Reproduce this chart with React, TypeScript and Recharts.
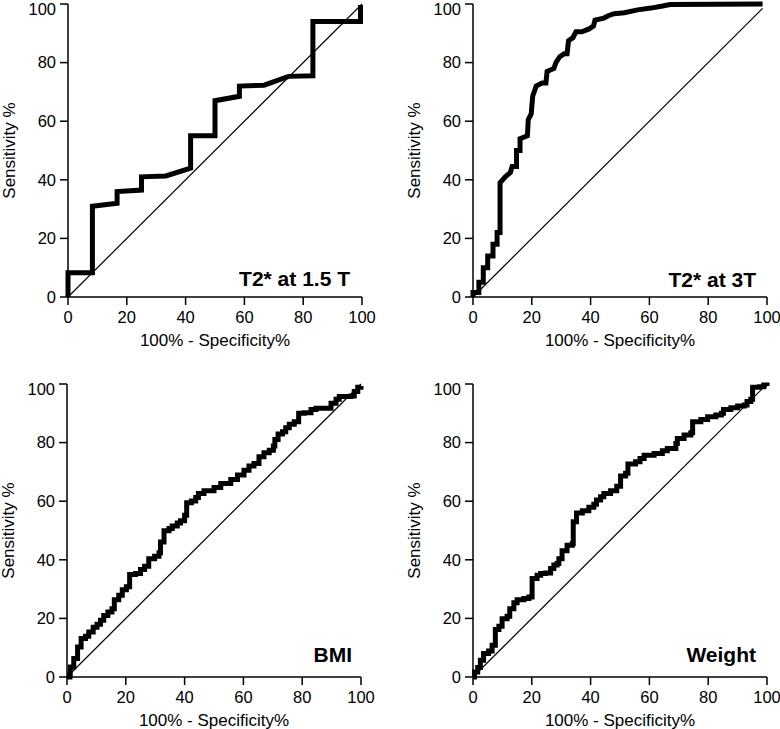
import React from "react";
import { LineChart, Line, XAxis, YAxis } from "recharts";

// ROC curves: x = 100% - Specificity%, y = Sensitivity %
const TICKS = [0, 20, 40, 60, 80, 100];

// T2* at 1.5 T
const t15X = [0, 0, 8.3, 8.3, 16.7, 16.7, 25, 25, 33.3, 41.7, 41.7, 50, 50, 58.3, 58.3, 66.7, 75, 83.3, 83.3, 99.5, 99.5];
const t15Y = [0, 8.3, 8.3, 31, 32, 36, 36.5, 41, 41.3, 44, 55, 55, 67, 68.5, 72, 72.3, 75.3, 75.5, 94, 94, 99.7];

// T2* at 3T
const t3X = [0, 0, 2, 2, 3.5, 3.5, 5, 5, 6.8, 6.8, 8.2, 8.2, 9.2, 9.2, 11, 12.7, 13.3, 14.8, 14.8, 16, 16, 18.5, 18.8, 19.8, 20.3, 21.5, 23.5, 24.8, 25.2, 27.5, 28.2, 29.5, 31, 32, 32.5, 34, 35, 37, 39.5, 41, 41.5, 44.5, 46, 48, 51.5, 56, 60.5, 64.5, 67, 98.5];
const t3Y = [0, 1.5, 1.5, 5, 5, 10, 10, 14, 14, 18, 18, 22, 22, 39, 41, 42.5, 44.5, 44.5, 50, 50, 54, 55, 60.5, 62.5, 68.5, 72, 73, 73, 77, 78, 80, 82, 83, 83, 87.5, 88.5, 90.5, 90.5, 91.5, 92.5, 94.5, 95.2, 96, 96.7, 97, 98, 98.6, 99.3, 99.8, 100];

// BMI
const bmiX = [0, 1, 1.1, 2.3, 3.6, 4.8, 6.3, 7.4, 8.9, 10.2, 11.4, 12.5, 13.9, 15.3, 16.1, 17.6, 18.8, 20.2, 21.3, 23.3, 25, 26.4, 27.8, 29.8, 31.3, 31.8, 33, 34.7, 35.8, 37.5, 38.6, 40, 40.7, 42.3, 43.8, 44.7, 46.6, 50, 52.3, 55.7, 58, 60.2, 61.9, 63.6, 65.3, 67, 68.8, 70.2, 70.7, 71.8, 73.3, 74.4, 75.6, 77.3, 78.8, 80.7, 83, 84.7, 88.1, 89.8, 91.5, 92.6, 96.6, 97.7, 98.9, 100];
const bmiY = [0, 1, 3.4, 6.3, 10.2, 13.1, 13.9, 15.4, 17, 18, 19.4, 21, 22.2, 23.3, 26.4, 27.9, 29.8, 30.8, 35, 35.3, 36.7, 37.8, 40.4, 41.2, 42.4, 46.1, 49.9, 50.7, 51.5, 52.6, 53.3, 55.2, 59.5, 60.1, 61.3, 62.6, 63.6, 64.7, 66, 67.4, 68.9, 70.6, 72, 72.9, 75.2, 76.5, 77.4, 78.8, 81.1, 82.9, 83.7, 85.1, 86.3, 87.1, 90, 90.2, 91.3, 91.7, 91.7, 93.4, 94.8, 95.7, 95.9, 97.4, 98.9, 99.3];

// Weight
const wtX = [0, 0.5, 1.6, 2.5, 3.6, 5.3, 6.5, 7.6, 8.8, 9.9, 11.6, 12.5, 13.9, 15, 17.3, 19, 20.1, 21.8, 23, 24.7, 26.4, 27.5, 28.6, 29.2, 30.3, 32, 33.8, 34.1, 35.2, 37.2, 39.4, 41.1, 42, 43.4, 44.5, 46.8, 48.9, 50.2, 51.9, 52.7, 55.3, 56.8, 58.2, 61.6, 64.4, 66.1, 69, 69.5, 71.8, 74.1, 74.7, 77.5, 79.8, 82.6, 84.5, 85.2, 87.7, 90, 92.3, 93.2, 94.5, 95.1, 97.4, 98.9, 100];
const wtY = [0, 1.7, 3.2, 5.7, 8, 8.9, 10.8, 16.2, 17.3, 19.9, 20.7, 23.3, 25.3, 26.4, 26.8, 27.3, 33.6, 34.7, 35.3, 35.5, 37, 38.2, 38.7, 40.4, 43.1, 45, 45.6, 53, 56, 56.7, 57.9, 59, 60.4, 61.5, 62.6, 63.6, 65.1, 68.6, 69.5, 72.7, 73.5, 74.6, 75.7, 76.3, 77.2, 78, 79.7, 81.4, 82.6, 83.4, 87.1, 87.9, 88.8, 89.4, 90, 91.3, 91.9, 92.5, 92.8, 94, 94.8, 98.9, 99.1, 99.7, 99.3];

const FONT = '"Liberation Sans", Arial, Helvetica, sans-serif';
const PLOT_W = 294;
const PLOT_H = 293;
const Y_AXIS_W = 68;
const X_AXIS_H = 50;
const M = { top: 5, right: 14, bottom: 5, left: 0 };

const zip = (xs: number[], ys: number[]) => xs.map((x, i) => ({ x, y: ys[i] }));

interface PanelProps {
  plotLeft: number;
  plotTop: number;
  xs: number[];
  ys: number[];
  curve: "linear" | "stepAfter";
  diagEnd: number;
}

function RocPanel({ plotLeft, plotTop, xs, ys, curve, diagEnd }: PanelProps) {
  const width = M.left + Y_AXIS_W + PLOT_W + M.right;
  const height = M.top + PLOT_H + X_AXIS_H + M.bottom;
  const axisStyle = { stroke: "#000", strokeWidth: 1.5 };
  const tickStyle = { fill: "#000", fontSize: 16.5, fontFamily: FONT };
  const diag = [
    { x: 0, y: 0 },
    { x: diagEnd, y: diagEnd },
  ];

  return (
    <div style={{ position: "absolute", left: plotLeft - Y_AXIS_W - M.left, top: plotTop - M.top }}>
      <LineChart width={width} height={height} margin={M}>
        <XAxis
          type="number"
          dataKey="x"
          domain={[0, 100]}
          ticks={TICKS}
          height={X_AXIS_H}
          axisLine={axisStyle}
          tickLine={axisStyle}
          tickSize={8}
          tickMargin={6}
          tick={tickStyle}
          label={{
            value: "100% - Specificity%",
            position: "insideBottom",
            offset: 1,
            style: { fill: "#000", fontSize: 17, fontFamily: FONT },
          }}
        />
        <YAxis
          type="number"
          dataKey="y"
          domain={[0, 100]}
          ticks={TICKS}
          width={Y_AXIS_W}
          axisLine={axisStyle}
          tickLine={axisStyle}
          tickSize={8}
          tickMargin={4}
          tick={tickStyle}
          label={{
            value: "Sensitivity %",
            angle: -90,
            position: "insideLeft",
            offset: 9,
            style: { fill: "#000", fontSize: 17, fontFamily: FONT, textAnchor: "middle" },
          }}
        />
        <Line
          data={diag}
          dataKey="y"
          type="linear"
          stroke="#000"
          strokeWidth={1.2}
          dot={false}
          isAnimationActive={false}
        />
        <Line
          data={zip(xs, ys)}
          dataKey="y"
          type={curve}
          stroke="#000"
          strokeWidth={5}
          dot={false}
          isAnimationActive={false}
        />
      </LineChart>
    </div>
  );
}

const captions = [
  { text: "T2* at 1.5 T", x: 350, y: 286 },
  { text: "T2* at 3T", x: 756, y: 287 },
  { text: "BMI", x: 352, y: 662 },
  { text: "Weight", x: 756, y: 662 },
];

export default function App() {
  return (
    <div
      style={{
        position: "absolute",
        left: 0,
        top: 0,
        width: 780,
        height: 729,
        overflow: "hidden",
        background: "#fff",
      }}
    >
      <RocPanel plotLeft={68} plotTop={4} xs={t15X} ys={t15Y} curve="linear" diagEnd={100} />
      <RocPanel plotLeft={473} plotTop={4} xs={t3X} ys={t3Y} curve="linear" diagEnd={98.5} />
      <RocPanel plotLeft={67} plotTop={384} xs={bmiX} ys={bmiY} curve="stepAfter" diagEnd={100} />
      <RocPanel plotLeft={473} plotTop={384} xs={wtX} ys={wtY} curve="stepAfter" diagEnd={100} />
      <svg
        width={780}
        height={729}
        style={{ position: "absolute", left: 0, top: 0, pointerEvents: "none" }}
      >
        {captions.map((c) => (
          <text
            key={c.text}
            x={c.x}
            y={c.y}
            textAnchor="end"
            fontFamily={FONT}
            fontWeight="bold"
            fontSize={21}
            fill="#000"
          >
            {c.text}
          </text>
        ))}
      </svg>
    </div>
  );
}
